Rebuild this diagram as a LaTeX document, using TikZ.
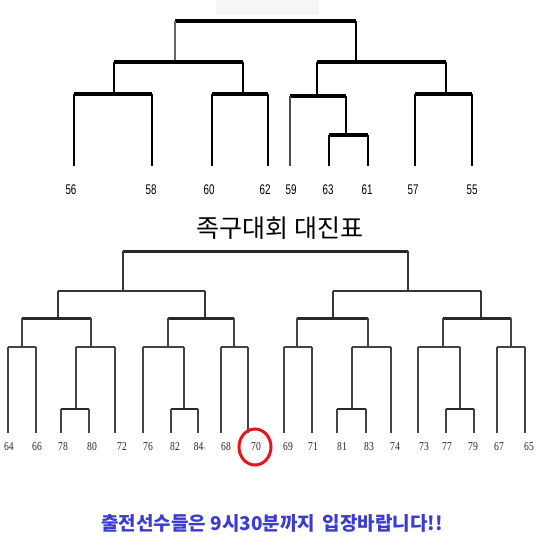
\documentclass[tikz,border=0pt]{standalone}
\usepackage{fontspec}
\usepackage{xcolor}
\usepackage{tikz}
\setmainfont{Liberation Serif}
\newfontfamily\kofont{Noto Sans CJK KR}
\newfontfamily\topnum[FakeStretch=0.7]{Liberation Sans}
\newfontfamily\botnum[FakeStretch=0.8]{Liberation Serif}
\definecolor{stemgray}{HTML}{444444}
\definecolor{noticeblue}{HTML}{3C3CD2}
\definecolor{markred}{HTML}{E8141C}
\definecolor{paleshade}{HTML}{F6F6F6}

\begin{document}
\begin{tikzpicture}[x=1pt,y=-1pt,
    topbar/.style={line width=3.5pt, black},
    topstem/.style={line width=2pt, black},
    botbar/.style={line width=2pt, stemgray!80!black},
    botstem/.style={line width=1.2pt, stemgray}]
        \useasboundingbox (0,0) rectangle (540,551);
        \fill[paleshade] (216,0) rectangle (319,15);

        % Upper bracket
        \draw[topbar] (175,21) -- (356,21);
        \draw[line width=1.5pt, black!60] (175,21) -- (175,62);
        \draw[topstem] (356,21) -- (356,62);
        \draw[topbar] (114,62) -- (243,62);
        \draw[topbar] (317,62) -- (446,62);
        \foreach \x/\y in {114/94, 243/94, 317/96, 446/94}
            \draw[topstem] (\x,62) -- (\x,\y);
        \draw[topbar] (74,94) -- (152,94);
        \draw[topbar] (212,94) -- (268,94);
        \draw[topbar] (290,96) -- (346,96);
        \draw[topbar] (415,94) -- (472,94);
        \draw[topstem] (346,96) -- (346,135);
        \draw[topbar] (329,135) -- (368,135);
        \foreach \x/\y in {74/94, 152/94, 212/94, 268/94, 329/135, 368/135, 415/94, 472/94}
            \draw[topstem] (\x,\y) -- (\x,166);
        \draw[line width=1.5pt, black!70] (290,96) -- (290,166);
        \foreach \x/\t [count=\i] in {71/56, 151/58, 209/60, 265/62, 291/59, 328/63, 367/61, 413/57, 472/55}
            \node[font=\topnum\fontsize{14}{14}\selectfont] (tl\i) at (\x,190) {\t};

        % Title
        \node[font=\kofont\fontsize{25}{25}\selectfont] (title) at (280,228) {족구대회 대진표};

        % Lower bracket
        \draw[line width=3pt, stemgray!60!black] (123,251) -- (408,251);
        \foreach \x in {123, 408}
            \draw[botbar] (\x,251) -- (\x,291);
        \draw[botbar] (58,291) -- (205,291);
        \draw[botbar] (333,291) -- (481,291);
        \foreach \x in {58, 205, 333, 481}
            \draw[botbar] (\x,291) -- (\x,318);
        \foreach \a/\b in {22/91, 168/234, 297/368, 443/511}
            \draw[line width=3pt, stemgray!60!black] (\a,318) -- (\b,318);
        \foreach \x in {22, 91, 168, 234, 297, 368, 443, 511}
            \draw[botstem] (\x,318) -- (\x,347);
        \foreach \a/\b in {8/36, 76/115, 143/184, 221/248, 284/312, 352/391, 418/460, 497/525}
            \draw[line width=1.5pt, stemgray] (\a,347) -- (\b,347);
        \foreach \x in {76, 184, 352, 460}
            \draw[botstem] (\x,347) -- (\x,409);
        \foreach \a/\b in {61/89, 171/198, 337/366, 446/474}
            \draw[line width=2.5pt, stemgray!60!black] (\a,409) -- (\b,409);
        \foreach \x/\y in {8/347, 36/347, 61/409, 89/409, 115/347, 143/347, 171/409, 198/409, 221/347, 248/347,
                           284/347, 312/347, 337/409, 366/409, 391/347, 418/347, 446/409, 474/409, 497/347, 525/347}
            \draw[botstem] (\x,\y) -- (\x,433);
        \foreach \x/\t [count=\i] in {9/64, 37/66, 63/78, 92/80, 122/72, 148/76, 175/82, 200/{84{\fontsize{6}{6}\selectfont\textasciitilde}}, 226/68, 256/70,
                                      288/69, 313/71, 342/81, 369/83, 395/74, 424/73, 447/77, 473/79, 499/67, 529/65}
            \node[font=\botnum\fontsize{12}{12}\selectfont, text=black!85] (bl\i) at (\x,447) {\t};

        % Mark on 70
        \draw[markred, line width=3pt] ([xshift=-1pt]bl10.center) ellipse [x radius=16pt, y radius=18pt];

        % Notice
        \node[font=\kofont\bfseries\fontsize{19}{19}\selectfont, text=noticeblue] (notice) at (272,523)
            {출전선수들은 9시30분까지\hspace{3pt} 입장바랍니다!!};
    \end{tikzpicture}
\end{document}
